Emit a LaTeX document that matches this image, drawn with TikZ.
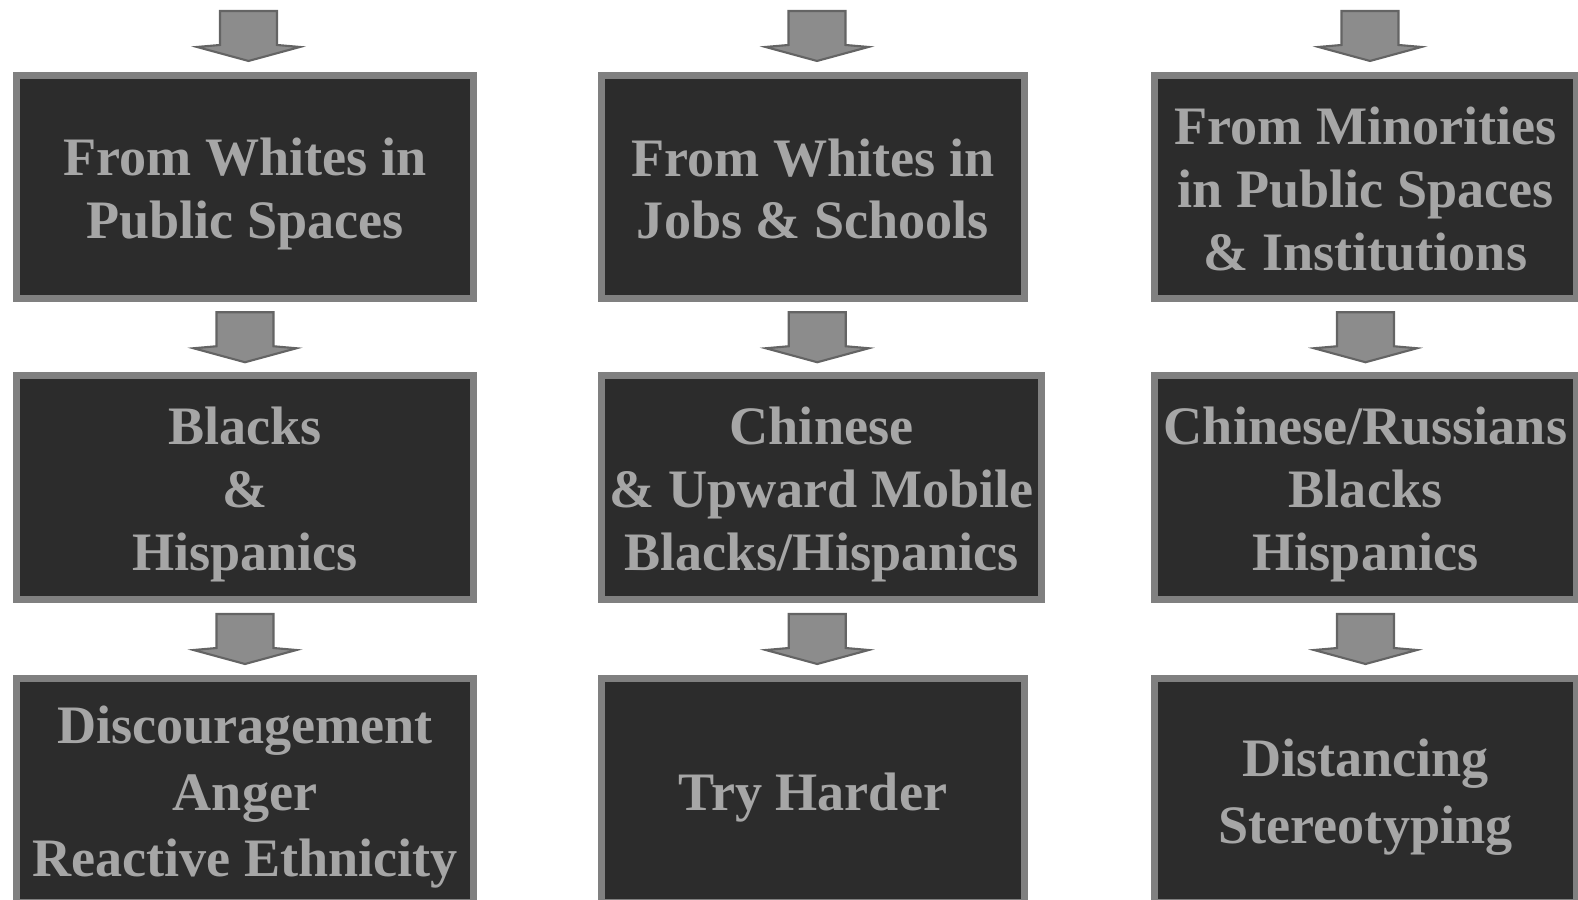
\documentclass[tikz,border=0pt]{standalone}
\usepackage{fontspec}
\setmainfont{Liberation Serif}
\definecolor{boxfill}{RGB}{44,44,44}
\definecolor{boxedge}{RGB}{128,128,128}
\definecolor{boxtext}{RGB}{166,166,166}
\definecolor{arrfill}{RGB}{140,140,140}
\definecolor{arredge}{RGB}{100,100,100}
% line box as on the slide: tall ascent, short descent
\newcommand{\lstrut}{\rule[-0.10cm]{0pt}{0.61cm}}
\tikzset{
  stagebox/.style={draw=boxedge, fill=boxfill, line width=0.07cm, minimum height=2.23cm,
    inner sep=0pt, align=center, text=boxtext, font=\fontsize{15.4}{17.9}\selectfont\bfseries},
  downarr/.pic={\filldraw[fill=arrfill, draw=arredge, line width=0.6pt]
    (-28.5,-25) -- (28.5,-25) -- (28.5,9) -- (51.5,11) -- (0,25) -- (-51.5,11) -- (-28.5,9) -- cycle;}
}

\begin{document}
\begin{tikzpicture}[x=0.01cm, y=-0.01cm]
\useasboundingbox (0,0) rectangle (1578,900);
% Column 1: whites in public spaces
\node[stagebox, minimum width=4.57cm] (wpub) at (245,187) {\lstrut From Whites in\\\lstrut Public Spaces};
\node[stagebox, minimum width=4.57cm] (bhis) at (245,487.5) {\lstrut Blacks\\\lstrut\&\\\lstrut Hispanics};
\node[stagebox, minimum width=4.57cm] (anger) at (245,790.5) {\lstrut Discouragement\\\lstrut Anger\\\lstrut Reactive Ethnicity};
% Column 2: whites in jobs and schools
\node[stagebox, minimum width=4.23cm] (wjob) at (813,187) {\lstrut From Whites in\\\lstrut Jobs \& Schools};
\node[stagebox, minimum width=4.40cm] (upmob) at (821.5,487.5) {\lstrut Chinese\\\lstrut\& Upward Mobile\\\lstrut Blacks/Hispanics};
\node[stagebox, minimum width=4.23cm] (harder) at (813,790.5) {\lstrut Try Harder};
% Column 3: minorities
\node[stagebox, minimum width=4.22cm] (minor) at (1365.5,187) {\lstrut From Minorities\\\lstrut in Public Spaces\\\lstrut\& Institutions};
\node[stagebox, minimum width=4.22cm] (groups) at (1365.5,487.5) {\lstrut Chinese/Russians\\\lstrut Blacks\\\lstrut Hispanics};
\node[stagebox, minimum width=4.22cm] (distance) at (1365.5,790.5) {\lstrut Distancing\\\lstrut Stereotyping};
% Free ends of the top arrows
\coordinate (top1) at (252,0);
\coordinate (top2) at (821,0);
\coordinate (top3) at (1374.5,0);
% Block arrows
\path (top1) -- (wpub.north) pic[pos=0.5]{downarr};
\path (top2) -- (wjob.north) pic[pos=0.5]{downarr};
\path (top3) -- (minor.north) pic[pos=0.5]{downarr};
\path (wpub.south) -- (bhis.north) pic[pos=0.5]{downarr};
\path (wjob.south) -- (upmob.north) pic[pos=0.5]{downarr};
\path (minor.south) -- (groups.north) pic[pos=0.5]{downarr};
\path (bhis.south) -- (anger.north) pic[pos=0.5]{downarr};
\path (upmob.south) -- (harder.north) pic[pos=0.5]{downarr};
\path (groups.south) -- (distance.north) pic[pos=0.5]{downarr};
\end{tikzpicture}
\end{document}
